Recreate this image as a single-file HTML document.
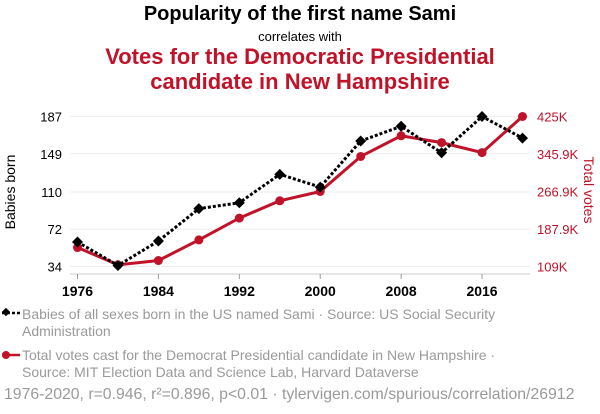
<!DOCTYPE html>
<html><head><meta charset="utf-8"><style>
body{margin:0;width:600px;height:414px;background:#fff;font-family:"Liberation Sans",sans-serif;overflow:hidden;position:relative}
.t{position:absolute;left:0;width:600px;text-align:center}
.leg{position:absolute;left:22px;font-size:14px;color:#9a9a9a;line-height:17px}
</style></head><body>
<div class="t" style="top:3px;font-size:20px;font-weight:bold;color:#000">Popularity of the first name Sami</div>
<div class="t" style="top:29px;font-size:13px;color:#000">correlates with</div>
<div class="t" style="top:44px;font-size:22px;font-weight:bold;color:#c0132a;line-height:25px">Votes for the Democratic Presidential<br>candidate in New Hampshire</div>
<svg width="600" height="414" style="position:absolute;left:0;top:0">
<g id="g"></g></svg>
<svg style="position:absolute;left:0;top:305px" width="24" height="70">
<line x1="2" y1="8" x2="20" y2="8" stroke="#000" stroke-width="2.5" stroke-dasharray="3,2"/><rect x="3" y="4" width="6" height="6" transform="rotate(45 6 7)" fill="#000"/>
<line x1="2" y1="50" x2="20" y2="50" stroke="#c0132a" stroke-width="2.5"/><circle cx="6" cy="50" r="4" fill="#c0132a"/>
</svg>
<div class="leg" style="top:306px">Babies of all sexes born in the US named Sami · Source: US Social Security<br>Administration</div>
<div class="leg" style="top:347px">Total votes cast for the Democrat Presidential candidate in New Hampshire ·<br>Source: MIT Election Data and Science Lab, Harvard Dataverse</div>
<div class="leg" style="left:4px;top:386px;font-size:15.8px">1976-2020, r=0.946, r²=0.896, p&lt;0.01 · tylervigen.com/spurious/correlation/26912</div>
<script>
const years=[1976,1980,1984,1988,1992,1996,2000,2004,2008,2012,2016,2020];
const babies=[59,35,60,93,99,128,115,162,177,150,187,165];
const votes=[149,112.6,121.6,165,211,247.4,267,340.8,384.4,370,349,425];
const xTicks=[1976,1984,1992,2000,2008,2016];
const leftTicks=[34,72,110,149,187];
const rightTicks=[109,187.9,266.9,345.9,425];
const rightLabels=["109K","187.9K","266.9K","345.9K","425K"];
const NS="http://www.w3.org/2000/svg";
const g=document.getElementById('g');
const X=y=>77.5+(y-1976)*(445/44);
const YL=v=>266.5-(v-34)/(187-34)*150;
const YR=v=>266.5-(v-109)/(425-109)*150;
function mk(t,a,txt){const e=document.createElementNS(NS,t);for(const k in a)e.setAttribute(k,a[k]);if(txt!==undefined)e.textContent=txt;g.appendChild(e);return e;}
leftTicks.forEach((v,i)=>{
 const l=mk('line',{x1:70,x2:530,y1:YL(v),y2:YL(v),stroke:'#eee','stroke-width':1});
 
 
 const t=mk('text',{x:62,y:YL(v)+5,'text-anchor':'end','font-size':13,fill:'#000'},v);
 
 
});
rightTicks.forEach((v,i)=>{
 const t=mk('text',{x:537,y:YR(v)+5,'font-size':13,fill:'#c0132a'},rightLabels[i]);
 
 
});
mk('line',{x1:70,x2:530,y1:274,y2:274,stroke:'#ccc'});
xTicks.forEach(v=>{
 mk('line',{x1:X(v),x2:X(v),y1:274,y2:279,stroke:'#999'});
 const t=mk('text',{x:X(v),y:296,'text-anchor':'middle','font-size':14,'font-weight':'bold',fill:'#000'},v);
 
 
});
const yl=mk('text',{transform:'translate(15,192) rotate(-90)','text-anchor':'middle','font-size':14,fill:'#000'},'Babies born');


const yr=mk('text',{transform:'translate(584,190) rotate(90)','text-anchor':'middle','font-size':14,fill:'#c0132a'},'Total votes');


const rl=mk('polyline',{points:years.map((y,i)=>X(y)+','+YR(votes[i])).join(' '),fill:'none',stroke:'#c0132a','stroke-width':3});


years.forEach((y,i)=>{const c=mk('circle',{cx:X(y),cy:YR(votes[i]),r:4.5,fill:'#c0132a'});
 
 });
const bl=mk('polyline',{points:years.map((y,i)=>X(y)+','+YL(babies[i])).join(' '),fill:'none',stroke:'#000','stroke-width':3,'stroke-dasharray':'3,2'});


years.forEach((y,i)=>{const cx=X(y),cy=YL(babies[i]);
 const p=mk('polygon',{points:`${cx},${cy-5.5} ${cx+5.5},${cy} ${cx},${cy+5.5} ${cx-5.5},${cy}`,fill:'#000'});
 
 });
</script>
</body></html>
